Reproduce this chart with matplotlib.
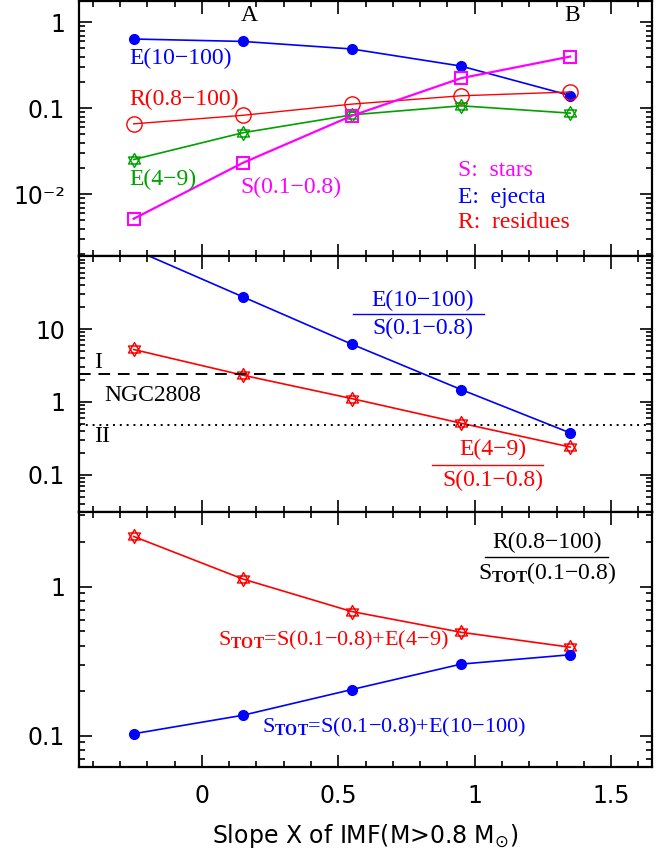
#!/usr/bin/env python

import numpy as np
import matplotlib
matplotlib.use("Agg")
import matplotlib.pyplot as plt
from matplotlib.path import Path
from matplotlib.lines import Line2D
from matplotlib.ticker import MultipleLocator, LogLocator, NullFormatter

# slope X of the IMF above 0.8 Msun
slopes = [-0.25, 0.15, 0.55, 0.95, 1.35]

# top panel: mass fractions
ejecta_massive = [0.64, 0.60, 0.49, 0.31, 0.141]     # E(10-100)
residues = [0.066, 0.083, 0.112, 0.14, 0.155]        # R(0.8-100)
ejecta_agb = [0.0254, 0.052, 0.084, 0.107, 0.088]    # E(4-9)
stars_low = [0.0052, 0.0232, 0.082, 0.224, 0.40]     # S(0.1-0.8)

# middle panel: ejecta over low mass stars
ratio_massive = [125.0, 27.8, 6.2, 1.48, 0.375]
ratio_agb = [5.25, 2.33, 1.11, 0.51, 0.24]
ngc2808_I = 2.45
ngc2808_II = 0.48

# bottom panel: residues over total stars
residue_ratio_agb = [2.17, 1.125, 0.68, 0.494, 0.392]
residue_ratio_massive = [0.103, 0.137, 0.204, 0.302, 0.349]

x_ticks = [0, 0.5, 1, 1.5]
x_tick_labels = ["0", "0.5", "1", "1.5"]
top_ticks = [0.01, 0.1, 1]
top_tick_labels = ["10\u207b\u00b2", "0.1", "1"]
mid_ticks = [0.1, 1, 10]
mid_tick_labels = ["0.1", "1", "10"]
bot_ticks = [0.1, 1]
bot_tick_labels = ["0.1", "1"]

BLUE = "#0000ff"
RED = "#ff0000"
GREEN = "#00a000"
MAGENTA = "#ff00ff"
SERIF = "Liberation Serif"
TSIZE = 17

plt.rcParams["mathtext.fontset"] = "custom"
plt.rcParams["mathtext.rm"] = SERIF
plt.rcParams["mathtext.bf"] = SERIF + ":bold"
plt.rcParams["mathtext.it"] = SERIF + ":italic"


def hexagram():
    # two overlapping triangles, like the star symbol of the original
    verts = []
    codes = []
    for start in (90, 270):
        angles = np.deg2rad([start, start + 120, start + 240])
        pts = list(zip(np.cos(angles), np.sin(angles)))
        verts += pts + [pts[0]]
        codes += [Path.MOVETO, Path.LINETO, Path.LINETO, Path.CLOSEPOLY]
    return Path(verts, codes)


def style_axis(ax, ticks, labels):
    ax.set_yscale("log")
    ax.set_xlim(-0.45, 1.65)
    ax.xaxis.set_major_locator(MultipleLocator(0.5))
    ax.xaxis.set_minor_locator(MultipleLocator(0.1))
    ax.set_yticks(ticks)
    ax.set_yticklabels(labels)
    ax.yaxis.set_minor_locator(LogLocator(base=10, subs=np.arange(2, 10)))
    ax.yaxis.set_minor_formatter(NullFormatter())
    ax.tick_params(which="both", direction="in", top=True, right=True,
                   width=1.2, labelsize=17)
    ax.tick_params(which="major", length=9, pad=10)
    ax.tick_params(axis="x", which="major", pad=12)
    ax.tick_params(which="minor", length=4.5)
    for spine in ax.spines.values():
        spine.set_linewidth(1.6)
    for label in ax.get_xticklabels() + ax.get_yticklabels():
        label.set_fontfamily("DejaVu Sans")


def put(ax, x, y, text, color, ha="left", size=TSIZE):
    ax.text(x, y, text, transform=ax.transAxes, color=color, ha=ha,
            va="center", fontsize=size, fontfamily=SERIF)


def fraction(ax, x, y_top, y_bar, y_bot, x0, x1, top, bottom, color):
    put(ax, x, y_top, top, color, ha="center")
    put(ax, x, y_bot, bottom, color, ha="center")
    ax.add_line(Line2D([x0, x1], [y_bar, y_bar], transform=ax.transAxes,
                       color=color, lw=1.0))


def main():
    star = hexagram()
    fig = plt.figure(figsize=(6.59, 8.5), dpi=100)
    grid = fig.add_gridspec(3, 1, left=0.12, right=0.9894, top=0.9988,
                            bottom=0.0976, hspace=0)
    ax_top = fig.add_subplot(grid[0])
    ax_mid = fig.add_subplot(grid[1], sharex=ax_top)
    ax_bot = fig.add_subplot(grid[2], sharex=ax_top)

    #
    # top panel: the mass fractions
    #
    ax_top.plot(slopes, ejecta_massive, "-o", color=BLUE, lw=1.2, ms=7)
    ax_top.plot(slopes, residues, "-o", color=RED, lw=1.0, ms=11,
                mfc="none", mew=1.0)
    ax_top.plot(slopes, ejecta_agb, "-", color=GREEN, lw=1.2,
                marker=star, ms=10, mfc="none", mew=1.0)
    ax_top.plot(slopes, stars_low, "-s", color=MAGENTA, lw=1.6, ms=8,
                mfc="none", mew=1.5)
    style_axis(ax_top, top_ticks, top_tick_labels)
    ax_top.set_ylim(0.0019, 1.77)

    put(ax_top, 0.297, 0.945, "A", "black", ha="center")
    put(ax_top, 0.860, 0.945, "B", "black", ha="center")
    put(ax_top, 0.087, 0.777, "E(10\u2212100)", BLUE)
    put(ax_top, 0.087, 0.613, "R(0.8\u2212100)", RED)
    put(ax_top, 0.087, 0.301, "E(4\u22129)", GREEN)
    put(ax_top, 0.281, 0.270, "S(0.1\u22120.8)", MAGENTA)
    put(ax_top, 0.661, 0.336, "S:  stars", MAGENTA)
    put(ax_top, 0.661, 0.230, "E:  ejecta", BLUE)
    put(ax_top, 0.661, 0.133, "R:  residues", RED)

    #
    # middle panel: ejecta compared with the low mass stars
    #
    ax_mid.plot(slopes, ratio_massive, "-o", color=BLUE, lw=1.2, ms=7)
    ax_mid.plot(slopes, ratio_agb, "-", color=RED, lw=1.2,
                marker=star, ms=10, mfc="none", mew=1.0)
    ax_mid.axhline(ngc2808_I, color="black", lw=1.4, ls=(0, (6, 4)))
    ax_mid.axhline(ngc2808_II, color="black", lw=1.4, ls=(0, (1, 2.5)))
    style_axis(ax_mid, mid_ticks, mid_tick_labels)
    ax_mid.set_ylim(0.031, 100)

    put(ax_mid, 0.026, 0.583, "I", "black")
    put(ax_mid, 0.044, 0.454, "NGC2808", "black")
    put(ax_mid, 0.026, 0.293, "II", "black")
    fraction(ax_mid, 0.600, 0.829, 0.774, 0.718, 0.478, 0.707,
             "E(10\u2212100)", "S(0.1\u22120.8)", BLUE)
    fraction(ax_mid, 0.7225, 0.2425, 0.184, 0.123, 0.616, 0.810,
             "E(4\u22129)", "S(0.1\u22120.8)", RED)

    #
    # bottom panel: residues compared with all the stars
    #
    ax_bot.plot(slopes, residue_ratio_agb, "-", color=RED, lw=1.2,
                marker=star, ms=10, mfc="none", mew=1.0)
    ax_bot.plot(slopes, residue_ratio_massive, "-o", color=BLUE, lw=1.2, ms=7)
    style_axis(ax_bot, bot_ticks, bot_tick_labels)
    ax_bot.set_ylim(0.0616, 3.18)
    ax_bot.set_xticks(x_ticks)
    ax_bot.set_xticklabels(x_tick_labels)
    for label in ax_bot.get_xticklabels():
        label.set_fontfamily("DejaVu Sans")

    fraction(ax_bot, 0.817, 0.879, 0.824, 0.760, 0.709, 0.923,
             "R(0.8\u2212100)", "S$_{\\mathbf{TOT}}$(0.1\u22120.8)", "black")
    put(ax_bot, 0.243, 0.496,
        "S$_{\\mathbf{TOT}}$=S(0.1\u22120.8)+E(4\u22129)", RED, size=16)
    put(ax_bot, 0.319, 0.156,
        "S$_{\\mathbf{TOT}}$=S(0.1\u22120.8)+E(10\u2212100)", BLUE, size=16)

    for ax in (ax_top, ax_mid):
        plt.setp(ax.get_xticklabels(), visible=False)

    ax_bot.set_xlabel("Slope X of IMF(M>0.8 M$_{\\odot}$)", fontsize=17,
                      fontfamily="DejaVu Sans", math_fontfamily="dejavusans",
                      labelpad=10)

    fig.savefig("out.png", dpi=100)
    plt.close(fig)


if __name__ == '__main__':
    main()
